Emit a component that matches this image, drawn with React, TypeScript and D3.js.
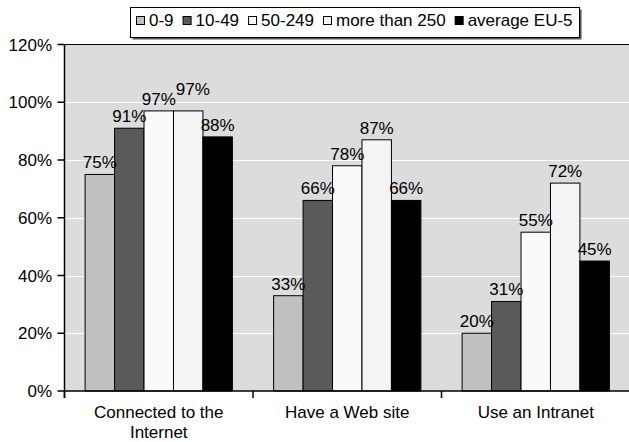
import React, { useEffect, useRef } from "react";
import * as d3 from "d3";

const categories = ["Connected to the Internet", "Have a Web site", "Use an Intranet"];
const categoryLines = [["Connected to the", "Internet"], ["Have a Web site"], ["Use an Intranet"]];
const seriesNames = ["0-9", "10-49", "50-249", "more than 250", "average EU-5"];
const seriesColors = ["#c0c0c0", "#5a5a5a", "#fafafa", "#f4f4f4", "#000000"];
// one array per series, in category order
const small = [75, 33, 20];
const medium = [91, 66, 31];
const large = [97, 78, 55];
const veryLarge = [97, 87, 72];
const averageEU5 = [88, 66, 45];
const yTicks = [0, 20, 40, 60, 80, 100, 120];

const seriesValues = [small, medium, large, veryLarge, averageEU5];

export default function App() {
  const svgRef = useRef<SVGSVGElement>(null);
  const width = 629;
  const height = 442;

  useEffect(() => {
    if (!svgRef.current) return;
    const svg = d3.select(svgRef.current);
    svg.selectAll("*").remove();
    const font = "'Liberation Sans', Arial, Helvetica, sans-serif";

    const left = 64.5;
    const top = 44.5;
    const bottom = 391;
    const step = 188.5;

    const x0 = d3.scaleBand<string>()
      .domain(categories)
      .range([left, left + step * categories.length])
      .padding(0);
    const x1 = d3.scaleBand<string>()
      .domain(seriesNames)
      .range([0, x0.bandwidth()])
      .paddingInner(0)
      .paddingOuter(0.7);
    const y = d3.scaleLinear().domain([0, 120]).range([bottom, top]);

    // plot area
    svg.append("rect")
      .attr("x", left).attr("y", top)
      .attr("width", width - left + 2).attr("height", bottom - top)
      .attr("fill", "#dcdcdc");

    svg.append("g")
      .selectAll("line")
      .data(yTicks.filter(t => t > 0 && t < 120))
      .join("line")
        .attr("x1", left).attr("x2", width)
        .attr("y1", d => Math.round(y(d)) + 0.5).attr("y2", d => Math.round(y(d)) + 0.5)
        .attr("stroke", "#ffffff").attr("stroke-width", 1);

    // top border
    svg.append("line")
      .attr("x1", left).attr("x2", width)
      .attr("y1", top).attr("y2", top)
      .attr("stroke", "#000");

    // bars
    const groups = svg.append("g")
      .selectAll("g")
      .data(categories)
      .join("g")
        .attr("transform", d => `translate(${x0(d)},0)`);

    groups.selectAll("rect")
      .data((_, i) => seriesNames.map((s, j) => ({ s, j, v: seriesValues[j][i] })))
      .join("rect")
        .attr("x", d => x1(d.s)!)
        .attr("y", d => y(d.v))
        .attr("width", x1.bandwidth())
        .attr("height", d => bottom - y(d.v))
        .attr("fill", d => seriesColors[d.j])
        .attr("stroke", "#000")
        .attr("stroke-width", 1);

    // value labels, nudged up/right when they collide with the previous one
    groups.each(function (_, i) {
      let prev: { x0: number; x1: number; y0: number; y1: number } | null = null;
      seriesNames.forEach((s, j) => {
        const v = seriesValues[j][i];
        let cx = x1(s)! + x1.bandwidth() / 2;
        let by = y(v) - 6;
        const t = d3.select(this).append("text")
          .attr("text-anchor", "middle")
          .attr("font-family", font)
          .attr("font-size", 17)
          .attr("fill", "#000")
          .text(v + "%");
        const w = (t.node() as SVGTextElement).getComputedTextLength();
        let box = { x0: cx - w / 2, x1: cx + w / 2, y0: by - 13, y1: by };
        if (prev && box.x0 < prev.x1 && box.y0 < prev.y1 + 1 && box.y1 > prev.y0 - 1) {
          cx = prev.x1 + w / 2;
          by = prev.y1 - 10;
          box = { x0: cx - w / 2, x1: cx + w / 2, y0: by - 13, y1: by };
        }
        t.attr("x", cx).attr("y", by);
        prev = box;
      });
    });

    // y axis
    svg.append("line")
      .attr("x1", left).attr("x2", left)
      .attr("y1", top).attr("y2", bottom + 7)
      .attr("stroke", "#000").attr("stroke-width", 1.5);
    const yAxis = svg.append("g");
    yAxis.selectAll("line")
      .data(yTicks)
      .join("line")
        .attr("x1", left - 7).attr("x2", left)
        .attr("y1", d => y(d)).attr("y2", d => y(d))
        .attr("stroke", "#000").attr("stroke-width", 1.5);
    yAxis.selectAll("text")
      .data(yTicks)
      .join("text")
        .attr("x", 52)
        .attr("y", d => y(d) + 6)
        .attr("text-anchor", "end")
        .attr("font-family", font)
        .attr("font-size", 17)
        .text(d => d + "%");

    // x axis
    svg.append("line")
      .attr("x1", left).attr("x2", width)
      .attr("y1", bottom).attr("y2", bottom)
      .attr("stroke", "#000").attr("stroke-width", 1.5);
    svg.append("g")
      .selectAll("line")
      .data(categories)
      .join("line")
        .attr("x1", d => x0(d)!).attr("x2", d => x0(d)!)
        .attr("y1", bottom).attr("y2", bottom + 7)
        .attr("stroke", "#000").attr("stroke-width", 1.5);
    svg.append("g")
      .selectAll("text")
      .data(categories)
      .join("text")
        .attr("x", d => x0(d)! + x0.bandwidth() / 2)
        .attr("y", 418)
        .attr("text-anchor", "middle")
        .attr("font-family", font)
        .attr("font-size", 17)
        .each(function (_, i) {
          d3.select(this).selectAll("tspan")
            .data(categoryLines[i])
            .join("tspan")
              .attr("x", x0(categories[i])! + x0.bandwidth() / 2)
              .attr("dy", (_, k) => (k === 0 ? 0 : 20))
              .text(t => t);
        });

    // legend
    const legend = svg.append("g");
    const shadow = legend.append("rect").attr("fill", "#555");
    const box = legend.append("rect").attr("fill", "#fff").attr("stroke", "#000").attr("stroke-width", 1);
    let cx = 136;
    seriesNames.forEach((name, j) => {
      legend.append("rect")
        .attr("x", cx + 0.5).attr("y", 16.5)
        .attr("width", 8).attr("height", 8)
        .attr("fill", seriesColors[j])
        .attr("stroke", "#000").attr("stroke-width", 1);
      const t = legend.append("text")
        .attr("x", cx + 13).attr("y", 26)
        .attr("font-family", font)
        .attr("font-size", 17)
        .text(name);
      const w = (t.node() as SVGTextElement).getComputedTextLength();
      cx += 13 + w + 9;
    });
    const boxRight = cx - 9 + 7;
    box.attr("x", 130.5).attr("y", 7.5).attr("width", boxRight - 130.5).attr("height", 30);
    shadow.attr("x", 132.5).attr("y", 9.5).attr("width", boxRight - 130.5).attr("height", 30);
  }, []);

  return (
    <svg
      ref={svgRef}
      width={width}
      height={height}
      style={{ position: "absolute", left: 0, top: 0, background: "#fff" }}
    />
  );
}
